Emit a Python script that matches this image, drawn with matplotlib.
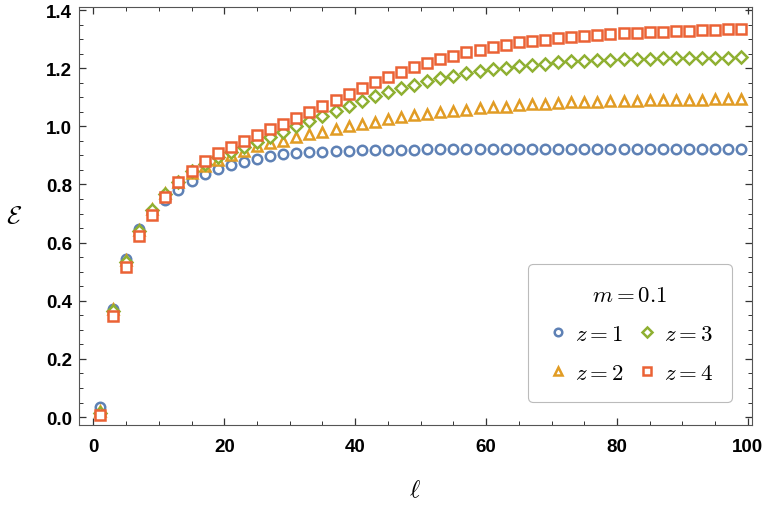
import numpy as np
import matplotlib
matplotlib.use("Agg")
import matplotlib.pyplot as plt
from matplotlib.ticker import MultipleLocator

plt.rcParams['mathtext.fontset'] = 'cm'

# data: ell = 1, 3, ..., 99
ell = np.arange(1, 100, 2)

z1 = [0.033, 0.372, 0.543, 0.647, 0.703, 0.746, 0.782, 0.813, 0.836, 0.853,
      0.868, 0.876, 0.888, 0.897, 0.904, 0.908, 0.911, 0.913, 0.915, 0.916,
      0.917, 0.918, 0.919, 0.920, 0.920, 0.921, 0.921, 0.921, 0.921, 0.922,
      0.922, 0.922, 0.922, 0.922, 0.922, 0.922, 0.922, 0.922, 0.922, 0.922,
      0.922, 0.922, 0.922, 0.922, 0.922, 0.922, 0.922, 0.922, 0.922, 0.922]

z2 = [0.020, 0.370, 0.540, 0.645, 0.715, 0.770, 0.810, 0.840, 0.865, 0.885,
      0.902, 0.916, 0.931, 0.943, 0.949, 0.962, 0.972, 0.981, 0.991, 1.000,
      1.009, 1.016, 1.025, 1.032, 1.039, 1.043, 1.048, 1.053, 1.057, 1.062,
      1.066, 1.068, 1.073, 1.076, 1.078, 1.080, 1.083, 1.084, 1.085, 1.086,
      1.087, 1.088, 1.089, 1.090, 1.090, 1.091, 1.092, 1.093, 1.093, 1.094]

z3 = [0.015, 0.365, 0.535, 0.640, 0.712, 0.768, 0.810, 0.845, 0.870, 0.893,
      0.911, 0.928, 0.945, 0.962, 0.979, 1.000, 1.019, 1.036, 1.054, 1.071,
      1.088, 1.103, 1.117, 1.132, 1.143, 1.155, 1.165, 1.174, 1.183, 1.189,
      1.196, 1.202, 1.207, 1.211, 1.215, 1.220, 1.223, 1.226, 1.228, 1.229,
      1.230, 1.232, 1.233, 1.234, 1.234, 1.235, 1.235, 1.236, 1.236, 1.237]

z4 = [0.007, 0.348, 0.515, 0.622, 0.696, 0.758, 0.807, 0.847, 0.879, 0.908,
      0.928, 0.951, 0.970, 0.991, 1.008, 1.029, 1.048, 1.069, 1.092, 1.111,
      1.132, 1.151, 1.171, 1.188, 1.203, 1.218, 1.232, 1.243, 1.255, 1.264,
      1.272, 1.281, 1.289, 1.293, 1.298, 1.303, 1.306, 1.310, 1.313, 1.316,
      1.320, 1.322, 1.324, 1.325, 1.328, 1.329, 1.330, 1.331, 1.334, 1.335]

series = [(z1, 'o', '#5E81B5', r'$z=1$'),
          (z2, '^', '#E19C24', r'$z=2$'),
          (z3, 'D', '#8FB032', r'$z=3$'),
          (z4, 's', '#EB6235', r'$z=4$')]
sizes = {'o': 6.8, '^': 7.4, 'D': 5.8, 's': 6.6}

fig = plt.figure(figsize=(7.64, 5.06), dpi=100)
ax = fig.add_axes([0.1034, 0.158, 0.8806, 0.826])

for vals, mk, col, lab in series:
    ax.plot(ell, vals, ls='none', marker=mk, ms=sizes[mk], mfc='white',
            mec=col, mew=1.8, label=lab)

ax.set_xlim(-2.2, 100.6)
ax.set_ylim(-0.0275, 1.41)
ax.xaxis.set_major_locator(MultipleLocator(20))
ax.xaxis.set_minor_locator(MultipleLocator(5))
ax.yaxis.set_major_locator(MultipleLocator(0.2))
ax.yaxis.set_minor_locator(MultipleLocator(0.05))
ax.yaxis.set_major_formatter(matplotlib.ticker.FormatStrFormatter('%.1f'))

for s in ax.spines.values():
    s.set_color('#555555')
    s.set_linewidth(0.8)
ax.tick_params(which='both', direction='in', top=True, right=True,
               color='#333333')
ax.tick_params(which='major', length=5, width=0.9, labelsize=13.5)
ax.tick_params(which='minor', length=3, width=0.7)
ax.tick_params(axis='x', which='major', pad=9)
ax.tick_params(axis='y', which='major', pad=5)
for t in ax.get_xticklabels() + ax.get_yticklabels():
    t.set_fontweight('bold')
    t.set_family('Liberation Sans')

ax.set_xlabel(r'$\ell$', fontsize=18)
ax.xaxis.set_label_coords(0.499, -0.153)
ax.xaxis.label.set_va('center')
ax.set_ylabel(r'$\mathcal{E}$', fontsize=18, rotation=0, va='center',
              ha='center')
ax.yaxis.set_label_coords(-0.097, 0.502)

leg = ax.legend(ncol=2, title=r'$m=0.1$', loc='lower right',
                bbox_to_anchor=(0.970, 0.055), borderaxespad=0,
                fontsize=16.5, title_fontsize=16.5, frameon=True,
                fancybox=True, edgecolor='#aaaaaa', handletextpad=0.25,
                columnspacing=0.5, handlelength=1.0, borderpad=0.8,
                labelspacing=0.7, markerscale=0.8)
leg.get_frame().set_linewidth(0.8)

fig.savefig('out.png', dpi=100)
